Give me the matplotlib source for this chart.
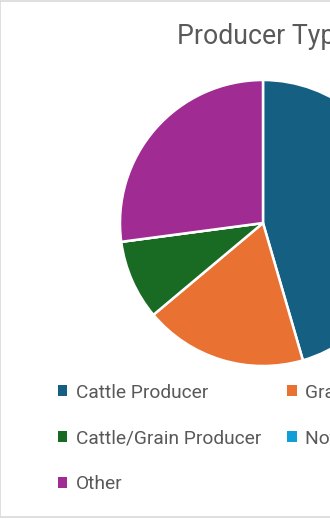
import matplotlib
matplotlib.use("Agg")
from matplotlib import pyplot as plt
from matplotlib.patches import Rectangle, Patch

# producer type shares (percent)
labels = ["Cattle Producer", "Grain Producer", "Cattle/Grain Producer", "Not Specified", "Other"]
values = [45.5, 18.4, 9.0, 0.0, 27.1]
colors = ["#156082", "#E97132", "#196B24", "#0F9ED5", "#A02B93"]

plt.rcParams['font.family'] = ['Roboto', 'DejaVu Sans']

fig = plt.figure(figsize=(3.3, 5.19), dpi=100)

# chart area border (right side runs off the picture)
fig.patches.append(Rectangle((0.0015, 0.003), 1.2, 0.995, transform=fig.transFigure,
                             fill=False, edgecolor="#d9d9d9", linewidth=1.2))

# pie is bigger than the visible part, so let it spill past the right edge
r = 143
ax = fig.add_axes([(263 - r) / 330, (519 - 223 - r) / 519, 2 * r / 330, 2 * r / 519])
ax.pie(values, colors=colors, startangle=90, counterclock=False, radius=1,
       wedgeprops=dict(edgecolor="white", linewidth=1.8))
ax.set_xlim(-1, 1)
ax.set_ylim(-1, 1)
ax.set_aspect("equal")
ax.axis("off")

fig.text(177 / 330, 1 - 36 / 519, "Producer Type", fontsize=19.2, color="#595959",
         ha="left", va="center")

# legend laid out row by row, so reorder for column-major filling
handles = [Patch(facecolor=c) for c in colors]
order = [0, 2, 4, 1, 3]
fig.legend([handles[i] for i in order], [labels[i] for i in order],
           loc="upper left", bbox_to_anchor=(50 / 330, 1 - 376 / 519), ncol=2,
           frameon=False, fontsize=13.8, labelcolor="#595959",
           handlelength=0.5, handleheight=0.5, handletextpad=0.45,
           labelspacing=1.45, columnspacing=1.35, borderaxespad=0)

fig.savefig("out.png", dpi=100)
